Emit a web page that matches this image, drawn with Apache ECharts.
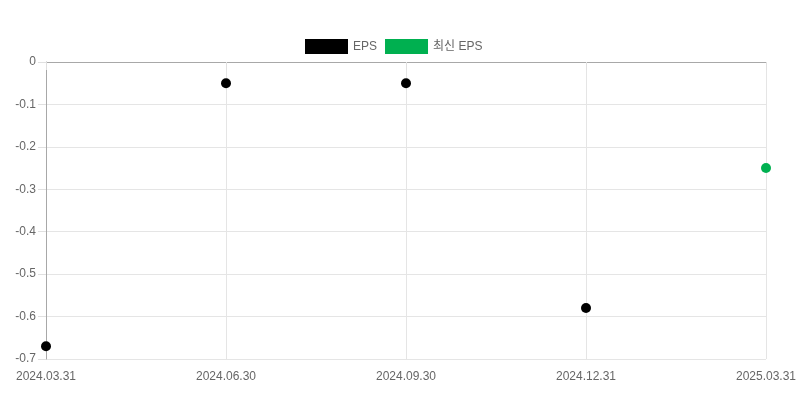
<!DOCTYPE html>
<html>
<head>
<meta charset="utf-8">
<script src="https://cdn.jsdelivr.net/npm/echarts@6/dist/echarts.min.js"></script>
<style>html,body{margin:0;padding:0;background:#fff}#c{width:800px;height:400px}</style>
</head>
<body>
<div id="c"></div>
<script>
const categories = ['2024.03.31', '2024.06.30', '2024.09.30', '2024.12.31', '2025.03.31'];
const epsValues = [-0.67, -0.05, -0.05, -0.58, null];
const latestEpsValues = [null, null, null, null, -0.25];
const seriesNames = ['EPS', '최신 EPS'];

const font = 'Liberation Sans, Arial, "Noto Sans CJK KR", sans-serif';
const chart = echarts.init(document.getElementById('c'), null, {renderer: 'canvas'});
chart.setOption({
  animation: false,
  textStyle: {fontFamily: font},
  legend: {
    top: 34, left: 300,
    itemWidth: 43, itemHeight: 15, itemGap: 8,
    icon: 'rect',
    textStyle: {color: '#666', fontSize: 12, fontFamily: font},
    data: seriesNames
  },
  grid: {left: 46, right: 34, top: 62, bottom: 41},
  xAxis: [{
    type: 'category', data: categories, boundaryGap: false,
    axisLine: {show: true, lineStyle: {color: '#e0e0e0'}},
    axisTick: {show: true, length: 8, alignWithLabel: true, lineStyle: {color: '#e0e0e0'}},
    axisLabel: {color: '#666', fontSize: 12, margin: 12, fontFamily: font, interval: 0},
    splitLine: {show: true, lineStyle: {color: '#e5e5e5'}}
  }, {
    type: 'category', data: categories, boundaryGap: false, position: 'top',
    axisLine: {show: true, lineStyle: {color: '#a8a8a8'}},
    axisTick: {show: false}, axisLabel: {show: false}, splitLine: {show: false}
  }],
  yAxis: {
    type: 'value', min: -0.7, max: 0, interval: 0.1,
    axisLine: {show: true, lineStyle: {color: '#a8a8a8'}},
    axisTick: {show: true, length: 8, lineStyle: {color: '#e0e0e0'}},
    axisLabel: {color: '#666', fontSize: 12, margin: 10, fontFamily: font,
      formatter: v => String(Math.round(v * 10) / 10)},
    splitLine: {show: true, lineStyle: {color: '#e5e5e5'}}
  },
  series: [
    {name: seriesNames[0], type: 'scatter', data: epsValues, symbolSize: 10,
      itemStyle: {color: '#000000', opacity: 1}},
    {name: seriesNames[1], type: 'scatter', data: latestEpsValues, symbolSize: 10,
      itemStyle: {color: '#00b050', opacity: 1}}
  ]
});
</script>
</body>
</html>
